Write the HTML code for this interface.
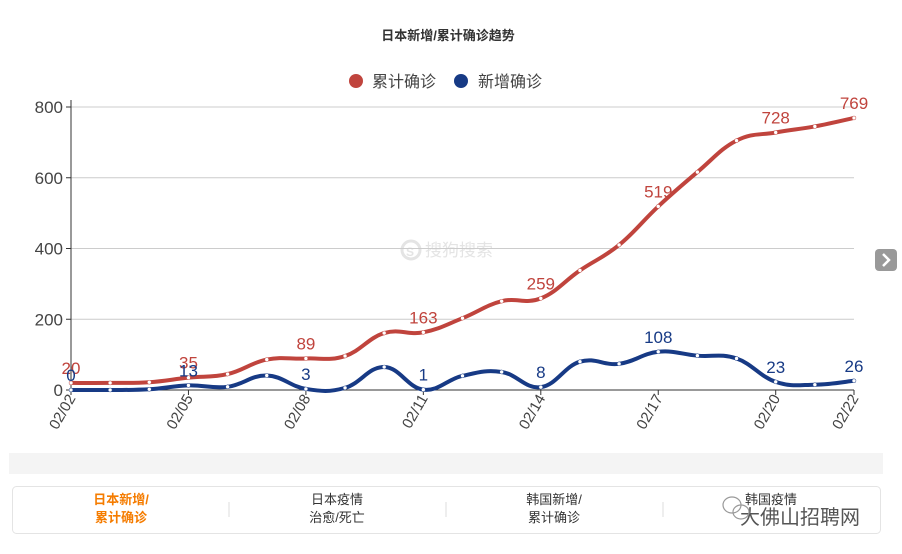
<!DOCTYPE html>
<html><head><meta charset="utf-8"><style>
body{margin:0;width:902px;height:554px;background:#fff;overflow:hidden;font-family:"Liberation Sans","Noto Sans CJK SC",sans-serif;position:relative}
</style></head><body>
<svg id="s" width="902" height="554" style="position:absolute;left:0;top:0" font-family="Liberation Sans, Noto Sans CJK SC, sans-serif">
<text x="448" y="40" text-anchor="middle" font-size="13" font-weight="bold" fill="#333">日本新增/累计确诊趋势</text>
<circle cx="356" cy="81" r="7" fill="#c0443d"/>
<text x="372" y="87" font-size="16" fill="#444">累计确诊</text>
<circle cx="461" cy="81" r="7" fill="#173a85"/>
<text x="478" y="87" font-size="16" fill="#444">新增确诊</text>
<g fill="#e4e4e4" font-size="17"><circle cx="411" cy="250" r="9" fill="none" stroke="#e4e4e4" stroke-width="3"/><text x="410" y="256" text-anchor="middle" font-size="12" font-weight="bold">S</text><text x="425" y="256">搜狗搜索</text></g>
<g id="g"></g>
<rect x="875" y="249" width="22" height="22" rx="4" fill="#999"/>
<path d="M883 254 L889 260 L883 266" stroke="#fff" stroke-width="2.5" fill="none"/>
<rect x="9" y="453" width="874" height="21" fill="#f4f4f4"/>
<rect x="12.5" y="486.5" width="868" height="47" rx="4" fill="#fff" stroke="#e4e4e4"/>
<g stroke="#ddd"><line x1="229" y1="502" x2="229" y2="517"/><line x1="446" y1="502" x2="446" y2="517"/><line x1="663" y1="502" x2="663" y2="517"/></g>
<g font-size="13" text-anchor="middle">
<text x="121" y="504" fill="#f57c00" font-weight="bold">日本新增/</text><text x="121" y="522" fill="#f57c00" font-weight="bold">累计确诊</text>
<text x="337" y="504" fill="#333">日本疫情</text><text x="337" y="522" fill="#333">治愈/死亡</text>
<text x="554" y="504" fill="#333">韩国新增/</text><text x="554" y="522" fill="#333">累计确诊</text>
<text x="771" y="504" fill="#333">韩国疫情</text>
<text x="800" y="524" fill="#555" font-size="20">大佛山招聘网</text>
</g>
<g fill="none" stroke="#999" stroke-width="1.2"><ellipse cx="732" cy="505" rx="9" ry="8"/><ellipse cx="741" cy="512" rx="8" ry="7"/></g>
</svg>
<script>
var c=[20,20,22,35,45,86,89,96,161,163,203,251,259,338,410,519,616,705,728,745,769];
var n=[0,0,2,13,9,41,3,6,65,1,40,51,8,80,74,108,97,89,23,15,26];
function X(i){return 71+i*39.15}function Y(v){return 390-v*0.35375}
var h='';
[0,200,400,600,800].forEach(function(v){var y=Y(v);h+='<line x1="71" x2="854" y1="'+y+'" y2="'+y+'" stroke="'+(v?'#ccc':'#333')+'" stroke-width="1"/><line x1="66" x2="71" y1="'+y+'" y2="'+y+'" stroke="#333"/><text x="63" y="'+(y+6)+'" text-anchor="end" font-size="17" fill="#444">'+v+'</text>';});
h+='<line x1="71" x2="71" y1="100" y2="390" stroke="#333"/>';
[0,3,6,9,12,15,18,20].forEach(function(i){var x=X(i);var d=2+i;h+='<line x1="'+x+'" x2="'+x+'" y1="390" y2="395" stroke="#333"/><text transform="translate('+(x+5)+',398) rotate(-60)" text-anchor="end" font-size="15" fill="#444">02/'+(d<10?'0'+d:d)+'</text>';});
function path(a){var p=a.map(function(v,i){return[X(i),Y(v)]});var d='M'+p[0][0]+' '+p[0][1];for(var i=0;i<p.length-1;i++){var p0=p[i-1]||p[i],p1=p[i],p2=p[i+1],p3=p[i+2]||p2;var t=0.2;d+=' C'+(p1[0]+(p2[0]-p0[0])*t)+' '+(p1[1]+(p2[1]-p0[1])*t)+' '+(p2[0]-(p3[0]-p1[0])*t)+' '+(p2[1]-(p3[1]-p1[1])*t)+' '+p2[0]+' '+p2[1];}return d;}
[[c,'#c0443d'],[n,'#173a85']].forEach(function(s){h+='<path d="'+path(s[0])+'" fill="none" stroke="'+s[1]+'" stroke-width="4"/>';s[0].forEach(function(v,i){h+='<circle cx="'+X(i)+'" cy="'+Y(v)+'" r="2" fill="#fff" stroke="'+s[1]+'" stroke-width="0.5"/>';});[0,3,6,9,12,15,18,20].forEach(function(i){h+='<text x="'+X(i)+'" y="'+(Y(s[0][i])-9)+'" text-anchor="middle" font-size="17" fill="'+s[1]+'">'+s[0][i]+'</text>';});});
document.getElementById('g').innerHTML=h;
</script>
</body></html>
